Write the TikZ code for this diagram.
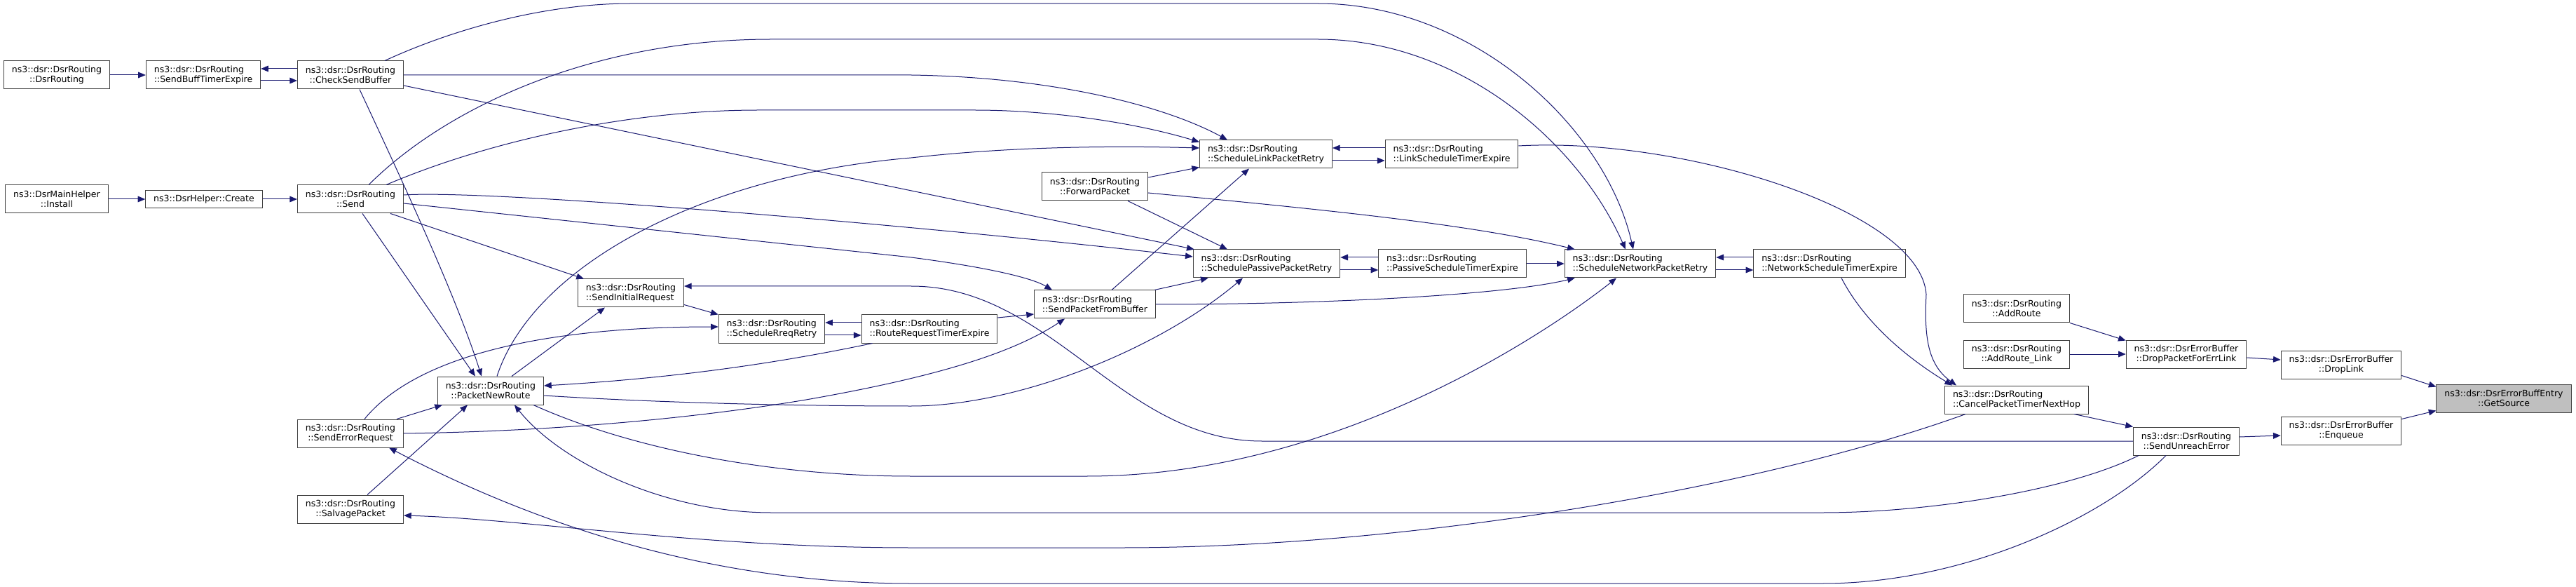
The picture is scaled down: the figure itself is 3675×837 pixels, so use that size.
\documentclass[tikz,border=0pt]{standalone}
\usepackage{fontspec}
\setmainfont{DejaVu Sans}
\usetikzlibrary{positioning,calc,arrows.meta}
\definecolor{edgeblue}{RGB}{25,25,112}
\definecolor{boxgrey}{RGB}{64,64,64}
\definecolor{rootgrey}{RGB}{191,191,191}
\tikzset{
  fnbox/.style={rectangle,draw=boxgrey,fill=white,line width=0.75pt,inner xsep=8.6pt,inner ysep=2pt,
    minimum height=30pt,align=center,font=\fontsize{9.4}{10.5}\selectfont},
  fnboxl/.style={fnbox,align=left},
  rootbox/.style={fnbox,fill=rootgrey},
  call/.style={-{Triangle[length=8pt,width=6.5pt]},color=edgeblue,line width=0.75pt}
}

\begin{document}
\begin{tikzpicture}[x=0.75pt,y=-0.75pt]
  \useasboundingbox (0,0) rectangle (3675,837);
  % callers, left to right
  \node[fnbox]  (dsrr)  at (81,107)   {ns3::dsr::DsrRouting\\::DsrRouting};
  \node[fnboxl] (sbte)  at (290,107)  {ns3::dsr::DsrRouting\\::SendBuffTimerExpire};
  \node[fnbox]  (csb)   at (500,107)  {ns3::dsr::DsrRouting\\::CheckSendBuffer};
  \node[fnbox]  (inst)  at (81,284)   {ns3::DsrMainHelper\\::Install};
  \node[fnbox,minimum height=18.75pt] (crt) at (291,284) {ns3::DsrHelper::Create};
  \node[fnbox]  (send)  at (500,284)  {ns3::dsr::DsrRouting\\::Send};
  \node[fnbox]  (ser)   at (500,618)  {ns3::dsr::DsrRouting\\::SendErrorRequest};
  \node[fnbox]  (salv)  at (500,726)  {ns3::dsr::DsrRouting\\::SalvagePacket};
  \node[fnboxl] (sir)   at (900,418)  {ns3::dsr::DsrRouting\\::SendInitialRequest};
  \node[fnbox]  (pnr)   at (700,557)  {ns3::dsr::DsrRouting\\::PacketNewRoute};
  \node[fnboxl] (srr)   at (1101,469) {ns3::dsr::DsrRouting\\::ScheduleRreqRetry};
  \node[fnboxl] (rrte)  at (1326,469) {ns3::dsr::DsrRouting\\::RouteRequestTimerExpire};
  \node[fnboxl] (spfb)  at (1562,434) {ns3::dsr::DsrRouting\\::SendPacketFromBuffer};
  \node[fnbox]  (fwd)   at (1562,266) {ns3::dsr::DsrRouting\\::ForwardPacket};
  \node[fnboxl] (slpr)  at (1806,220) {ns3::dsr::DsrRouting\\::ScheduleLinkPacketRetry};
  \node[fnboxl] (sppr)  at (1807,376) {ns3::dsr::DsrRouting\\::SchedulePassivePacketRetry};
  \node[fnboxl] (lste)  at (2071,220) {ns3::dsr::DsrRouting\\::LinkScheduleTimerExpire};
  \node[fnboxl] (pste)  at (2072,376) {ns3::dsr::DsrRouting\\::PassiveScheduleTimerExpire};
  \node[fnboxl] (snpr)  at (2340,376) {ns3::dsr::DsrRouting\\::ScheduleNetworkPacketRetry};
  \node[fnboxl] (nste)  at (2610,376) {ns3::dsr::DsrRouting\\::NetworkScheduleTimerExpire};
  \node[fnboxl] (cptnh) at (2877,570) {ns3::dsr::DsrRouting\\::CancelPacketTimerNextHop};
  \node[fnbox]  (addr)  at (2877,440) {ns3::dsr::DsrRouting\\::AddRoute};
  \node[fnbox]  (addrl) at (2877,505) {ns3::dsr::DsrRouting\\::AddRoute\_Link};
  \node[fnbox]  (dpfel) at (3119,505) {ns3::dsr::DsrErrorBuffer\\::DropPacketForErrLink};
  \node[fnbox]  (sue)   at (3119,629) {ns3::dsr::DsrRouting\\::SendUnreachError};
  \node[fnbox]  (dropl) at (3340,520) {ns3::dsr::DsrErrorBuffer\\::DropLink};
  \node[fnbox]  (enq)   at (3340,614) {ns3::dsr::DsrErrorBuffer\\::Enqueue};
  \node[rootbox] (getsrc) at (3572,568) {ns3::dsr::DsrErrorBuffEntry\\::GetSource};

  % left part
  \draw[call] (dsrr.east) -- (sbte.west);
  \draw[call] ($(csb.west)+(0,-9)$) -- ($(sbte.east)+(0,-9)$);
  \draw[call] ($(sbte.east)+(0,8)$) -- ($(csb.west)+(0,8)$);
  \draw[call] (inst.east) -- (crt.west);
  \draw[call] (crt.east) -- (send.west);
  \draw[call] ($(csb.north)+(49,0)$) .. controls (650,40) and (780,5) .. (900,5) -- (1880,5)
    .. controls (2100,5) and (2290,180) .. ($(snpr.north)+(-10,0)$);
  \draw[call] ($(send.north)+(26,0)$) .. controls (640,150) and (850,56) .. (1100,56) -- (1880,56)
    .. controls (2080,56) and (2250,200) .. ($(snpr.north)+(-21,0)$);
  \draw[call] (csb.east) -- (1300,107) .. controls (1500,110) and (1660,150) .. ($(slpr.north)+(-55,0)$);
  \draw[call] ($(csb.east)+(0,15)$) -- ($(sppr.north west)+(2,0)$);
  \draw[call] ($(send.north)+(51,0)$) .. controls (700,200) and (900,157) .. (1082,157) -- (1390,157)
    .. controls (1500,157) and (1620,175) .. ($(slpr.north west)+(0,3)$);
  \draw[call] ($(send.east)+(0,-6)$) .. controls (700,270) and (1300,320) .. ($(sppr.west)+(0,-10)$);
  \draw[call] ($(send.east)+(0,6)$) -- (1300,367) .. controls (1400,380) and (1470,395) .. ($(spfb.north)+(-61,0)$);
  \draw[call] ($(send.south east)+(-19,0)$) -- ($(sir.north west)+(9,0)$);
  \draw[call] ($(csb.south)+(13,0)$) .. controls (570,250) and (650,420) .. ($(pnr.north west)+(63,0)$);
  \draw[call] ($(send.south)+(17,0)$) -- ($(pnr.north west)+(54,0)$);
  \draw[call] ($(ser.north east)+(-10,0)$) -- ($(pnr.south west)+(7,0)$);
  \draw[call] ($(salv.north)+(24,0)$) -- ($(pnr.south)+(-33,0)$);
  \draw[call] ($(ser.north)+(20,0)$) .. controls (600,500) and (800,466) .. ($(srr.west)+(0,-3)$);
  \draw[call] (ser.east) .. controls (800,615) and (1000,595) .. (1150,570)
    .. controls (1350,535) and (1450,500) .. ($(spfb.south)+(-43,0)$);

  % middle part
  \draw[call] ($(pnr.north)+(30,0)$) -- ($(sir.south)+(-37,0)$);
  \draw[call] ($(pnr.north)+(9,0)$) .. controls (760,380) and (1000,250) .. (1300,225)
    .. controls (1450,208) and (1600,208) .. ($(slpr.west)+(0,-9)$);
  \draw[call] ($(pnr.east)+(0,7)$) .. controls (950,575) and (1150,579) .. (1300,579)
    .. controls (1450,579) and (1650,500) .. ($(sppr.south)+(-34,0)$);
  \draw[call] ($(pnr.south east)+(-15,0)$) .. controls (900,640) and (1100,679) .. (1300,679) -- (1550,679)
    .. controls (1900,679) and (2200,480) .. ($(snpr.south)+(-34,0)$);
  \draw[call] ($(sir.south east)+(0,-4)$) -- (srr.north west);
  \draw[call] ($(rrte.west)+(0,-9)$) -- ($(srr.east)+(0,-9)$);
  \draw[call] ($(srr.east)+(0,9)$) -- ($(rrte.west)+(0,9)$);
  \draw[call] ($(rrte.south west)+(16,0)$) .. controls (1100,520) and (950,540) .. ($(pnr.east)+(0,-7)$);
  \draw[call] ($(rrte.east)+(0,-16)$) -- ($(spfb.west)+(0,14)$);
  \draw[call] ($(fwd.east)+(0,-13)$) -- ($(slpr.south west)+(0,-2)$);
  \draw[call] ($(fwd.south)+(47,0)$) -- ($(sppr.north)+(-56,0)$);
  \draw[call] ($(fwd.east)+(0,9)$) .. controls (1900,300) and (2100,320) .. ($(snpr.north west)+(15,0)$);
  \draw[call] ($(spfb.north)+(24,0)$) -- ($(slpr.south)+(-24,0)$);
  \draw[call] ($(spfb.north east)+(-2,0)$) -- ($(sppr.south west)+(22,0)$);
  \draw[call] (spfb.east) .. controls (1900,434) and (2150,420) .. ($(snpr.south west)+(15,0)$);
  \draw[call] ($(lste.west)+(0,-9)$) -- ($(slpr.east)+(0,-9)$);
  \draw[call] ($(slpr.east)+(0,9)$) -- ($(lste.west)+(0,9)$);
  \draw[call] ($(pste.west)+(0,-9)$) -- ($(sppr.east)+(0,-9)$);
  \draw[call] ($(sppr.east)+(0,9)$) -- ($(pste.west)+(0,9)$);
  \draw[call] (pste.east) -- (snpr.west);
  \draw[call] ($(nste.west)+(0,-9)$) -- ($(snpr.east)+(0,-9)$);
  \draw[call] ($(snpr.east)+(0,9)$) -- ($(nste.west)+(0,9)$);

  % right part
  \draw[call] ($(nste.south)+(17,0)$) .. controls (2660,460) and (2720,510) .. ($(cptnh.north west)+(11,0)$);
  \draw[call] ($(lste.east)+(0,-12)$) .. controls (2400,195) and (2740,300) .. (2748,420)
    .. controls (2745,480) and (2750,520) .. ($(cptnh.north west)+(17,0)$);
  \draw[call] ($(cptnh.south east)+(-21,0)$) -- (sue.north west);
  \draw[call] ($(cptnh.south west)+(30,0)$) .. controls (2500,700) and (2000,781) .. (1600,781) -- (1300,781)
    .. controls (1000,781) and (750,740) .. ($(salv.east)+(0,9)$);
  \draw[call] (sue.west) -- (1800,629) .. controls (1600,629) and (1500,408) .. (1300,408)
    -- ($(sir.east)+(0,-10)$);
  \draw[call] ($(sue.south west)+(8,0)$) .. controls (2950,700) and (2750,731) .. (2600,731) -- (1100,731)
    .. controls (950,731) and (800,660) .. ($(pnr.south)+(34,0)$);
  \draw[call] ($(sue.south)+(-29,0)$) .. controls (3000,740) and (2800,832) .. (2600,832) -- (1300,832)
    .. controls (1000,832) and (750,740) .. ($(ser.south east)+(-21,0)$);
  \draw[call] (addr.south east) -- ($(dpfel.north west)+(0,1)$);
  \draw[call] (addrl.east) -- (dpfel.west);
  \draw[call] ($(dpfel.east)+(0,5)$) -- ($(dropl.west)+(0,-7)$);
  \draw[call] ($(sue.east)+(0,-6)$) -- ($(enq.west)+(0,7)$);
  \draw[call] ($(dropl.south east)+(0,-5)$) -- ($(getsrc.north west)+(0,4)$);
  \draw[call] ($(enq.north east)+(0,4)$) -- ($(getsrc.south west)+(0,-3)$);
\end{tikzpicture}
\end{document}
